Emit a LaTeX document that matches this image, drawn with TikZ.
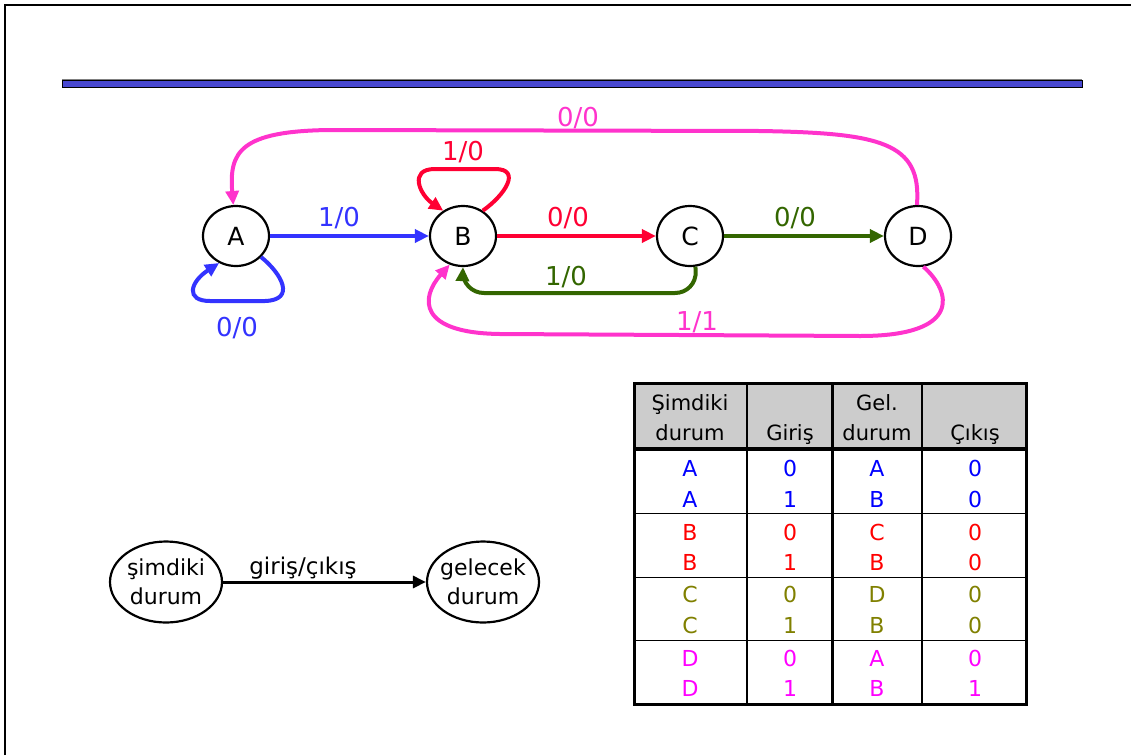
\documentclass[tikz,border=0pt]{standalone}
\usepackage{fontspec}
\setmainfont{DejaVu Sans}
\usepackage{tikz}
\usetikzlibrary{shapes,arrows,arrows.meta,calc,positioning}
\definecolor{blu}{RGB}{51,51,255}
\definecolor{rd}{RGB}{255,0,51}
\definecolor{grn}{RGB}{51,102,0}
\definecolor{mag}{RGB}{255,51,204}
\definecolor{tblu}{RGB}{0,0,255}
\definecolor{trd}{RGB}{255,0,0}
\definecolor{tolv}{RGB}{128,128,0}
\definecolor{tmag}{RGB}{255,0,255}
\definecolor{barblue}{RGB}{72,72,208}

\tikzset{
	st/.style={draw, ellipse, line width=2.2pt, minimum width=66pt, minimum height=60pt, inner sep=0pt, font=\fontsize{25}{28}\selectfont},
	bigst/.style={draw, ellipse, line width=2.2pt, minimum width=112pt, minimum height=81pt, inner sep=-10pt, align=center, font=\fontsize{22}{29}\selectfont},
	trans/.style={line width=4pt, -{Triangle[length=14pt,width=13pt]}},
	lbl/.style={draw=none, fill=none, inner sep=0pt, font=\fontsize{26}{30}\selectfont},
	cell/.style={draw=none, fill=none, inner sep=0pt, font=\fontsize{22}{26}\selectfont},
	head/.style={draw=none, fill=none, inner sep=0pt, anchor=base, font=\fontsize{21}{26}\selectfont}
}

\begin{document}
\begin{tikzpicture}[x=1pt,y=-1pt]
		\useasboundingbox (0,0) rectangle (1131,755);
		\draw[line width=2.5pt] (5,755) -- (5,5) -- (1131,5);
		
		% title bar
		\draw[gray, line width=1pt] (62,79) -- (1082,79);
		\draw[fill=barblue, line width=1pt] (62,80) rectangle (1082,87);
		
		% states
		\node[st] (A) at (236,236) {A};
		\node[st] (B) at (463,236) {B};
		\node[st] (C) at (690,236) {C};
		\node[st] (D) at (918,236) {D};
		
		\draw[trans, blu] (A) -- (B);
		\node[lbl, text=blu] (lab) at (339,218) {1/0};
		\draw[trans, blu] (A.-40) .. controls (282,274) and (296,300) .. (265,301) -- (210,301) .. controls (185,301) and (190,282) .. (A.-122);
		\node[lbl, text=blu] (laa) at (237,328) {0/0};
		
		\draw[trans, rd] (B) -- (C);
		\node[lbl, text=rd] (lbc) at (568,218) {0/0};
		\draw[trans, rd] (B.52) .. controls (505,195) and (522,169) .. (495,169) -- (435,169) .. controls (408,169) and (420,195) .. (B.128);
		\node[lbl, text=rd] (lbb) at (463,152) {1/0};
		
		\draw[trans, grn] (C) -- (D);
		\node[lbl, text=grn] (lcd) at (795,218) {0/0};
		\draw[trans, grn, rounded corners=22pt] (C.-80) -- (697,293) -- (462,293) -- (B.-90);
		\node[lbl, text=grn] (lcb) at (566,277) {1/0};
		
		\draw[trans, mag] (D.-80) .. controls (952,292) and (962,336) .. (860,336) -- (500,334) .. controls (418,333) and (420,298) .. (B.-115);
		\node[lbl, text=mag] (ldb) at (697,322) {1/1};
		\draw[trans, mag] (D.92) .. controls (922,142) and (880,133) .. (760,131) -- (330,130) .. controls (240,131) and (229,152) .. (A.95);
		\node[lbl, text=mag] (lda) at (578,118) {0/0};
		
		% legend
		\node[bigst] (now) at (166,582) {şimdiki\\durum};
		\node[bigst] (next) at (483,582) {gelecek\\durum};
		\draw[line width=3pt, -{Triangle[length=13pt,width=12pt]}] (now) -- (next);
		\node[lbl, font=\fontsize{23}{26}\selectfont] (lio) at (303,568) {giriş/çıkış};
		
		% table
		\fill[black!20] (634,383) rectangle (1026,448);
		\draw[line width=1pt] (634,513) -- (1026,513);
		\draw[line width=1pt] (634,577) -- (1026,577);
		\draw[line width=1pt] (634,640) -- (1026,640);
		\draw[line width=2pt] (747,383) -- (747,704);
		\draw[line width=2pt] (922,383) -- (922,704);
		\draw[line width=3pt] (832,383) -- (832,704);
		\draw[line width=4pt] (634,449) -- (1026,449);
		\draw[line width=3pt] (634,383) rectangle (1026,704);
		
		\node[head] (h1a) at (690,410) {Şimdiki};
		\node[head] (h1b) at (690,440) {durum};
		\node[head] (h2) at (790,440) {Giriş};
		\node[head] (h3a) at (877,410) {Gel.};
		\node[head] (h3b) at (877,440) {durum};
		\node[head] (h4) at (975,440) {Çıkış};
		
		\node[cell, text=tblu] (r1a) at (690,468) {A}; \node[cell, text=tblu] (r1b) at (790,468) {0}; \node[cell, text=tblu] (r1c) at (877,468) {A}; \node[cell, text=tblu] (r1d) at (975,468) {0};
		\node[cell, text=tblu] (r2a) at (690,499) {A}; \node[cell, text=tblu] (r2b) at (790,499) {1}; \node[cell, text=tblu] (r2c) at (877,499) {B}; \node[cell, text=tblu] (r2d) at (975,499) {0};
		\node[cell, text=trd] (r3a) at (690,532) {B}; \node[cell, text=trd] (r3b) at (790,532) {0}; \node[cell, text=trd] (r3c) at (877,532) {C}; \node[cell, text=trd] (r3d) at (975,532) {0};
		\node[cell, text=trd] (r4a) at (690,562) {B}; \node[cell, text=trd] (r4b) at (790,562) {1}; \node[cell, text=trd] (r4c) at (877,562) {B}; \node[cell, text=trd] (r4d) at (975,562) {0};
		\node[cell, text=tolv] (r5a) at (690,594) {C}; \node[cell, text=tolv] (r5b) at (790,594) {0}; \node[cell, text=tolv] (r5c) at (877,594) {D}; \node[cell, text=tolv] (r5d) at (975,594) {0};
		\node[cell, text=tolv] (r6a) at (690,625) {C}; \node[cell, text=tolv] (r6b) at (790,625) {1}; \node[cell, text=tolv] (r6c) at (877,625) {B}; \node[cell, text=tolv] (r6d) at (975,625) {0};
		\node[cell, text=tmag] (r7a) at (690,658) {D}; \node[cell, text=tmag] (r7b) at (790,658) {0}; \node[cell, text=tmag] (r7c) at (877,658) {A}; \node[cell, text=tmag] (r7d) at (975,658) {0};
		\node[cell, text=tmag] (r8a) at (690,688) {D}; \node[cell, text=tmag] (r8b) at (790,688) {1}; \node[cell, text=tmag] (r8c) at (877,688) {B}; \node[cell, text=tmag] (r8d) at (975,688) {1};
		\end{tikzpicture}
\end{document}
